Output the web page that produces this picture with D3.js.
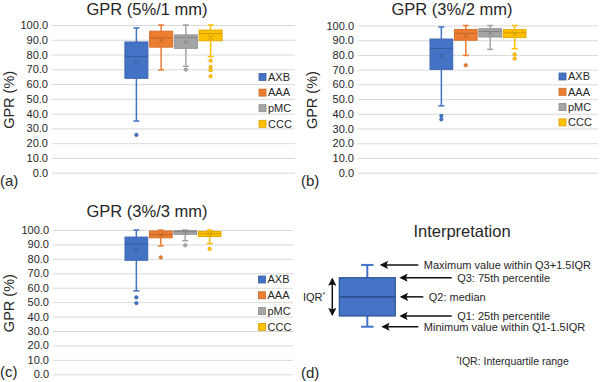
<!DOCTYPE html>
<html>
<head>
<meta charset="utf-8">
<script src="https://cdn.jsdelivr.net/npm/d3@7"></script>
<style>
	body { margin: 0; background: #fff; }
	text { font-family: "Liberation Sans", Arial, sans-serif; fill: #262626; }
</style>
</head>
<body>
<div id="chart"></div>
<script>
// series and colours shared by the three box plots
const series = ["AXB", "AAA", "pMC", "CCC"];
const colors = ["#4472C4", "#ED7D31", "#A5A5A5", "#FFC000"];
const yTicks = [0, 10, 20, 30, 40, 50, 60, 70, 80, 90, 100];

// [min whisker, q1, median, q3, max whisker] per series
const boxA = [[35, 63.9, 78.7, 88.5, 98], [69.6, 85, 91.2, 95.8, 100], [72, 84.2, 91.5, 93.3, 100], [78.6, 89.3, 94.2, 96.6, 100]];
const meanA = [74.5, 89.5, 88.5, 91.5];
const outA = [[25.6], [], [69.8], [75.8, 71.6, 69.4, 65.3]];

const boxB = [[45.4, 70.2, 84.4, 90.8, 99], [79.7, 90, 94.7, 97.3, 100], [83.8, 92.2, 95.9, 97.8, 100], [84.2, 91.8, 95, 97.2, 100]];
const meanB = [79.2, 93, 94.8, 94.4];
const outB = [[38.6, 36.2], [73], [], [80.4, 77.5]];

const boxC = [[57.8, 79, 90.3, 95.1, 100], [89, 94.6, 96.8, 99.3, 100], [92.6, 97, 98.8, 99.6, 100], [90.6, 95.5, 97.4, 99, 100]];
const meanC = [86, 96.5, 98.3, 97];
const outC = [[53.3, 49.3], [81], [89.4], [86.9]];

// illustrative box for the interpretation panel
const demoBox = [41.6, 50, 65, 80, 90];
const demoLabels = ["Minimum value within Q1-1.5IQR", "Q1: 25th percentile", "Q2: median", "Q3: 75th percentile", "Maximum value within Q3+1.5IQR"];

const svg = d3.select("#chart").append("svg")
	.attr("width", 600)
	.attr("height", 382);

// arrow head, tip pointing along the line
svg.append("defs").append("marker")
	.attr("id", "head")
	.attr("viewBox", "0 0 10 10")
	.attr("refX", 8).attr("refY", 5)
	.attr("markerWidth", 5.5).attr("markerHeight", 5.5)
	.attr("orient", "auto-start-reverse")
	.append("path")
	.attr("d", "M0,0L10,5L0,10L2,5Z")
	.attr("fill", "#111");

function boxPanel(o) {
	const g = svg.append("g");

	const y = d3.scaleLinear().domain([0, 100]).range([o.bottom, o.top]);
	const plotW = o.right - o.left;
	const cx = (o.left + o.right) / 2;
	const x = d3.scaleBand()
		.domain(series)
		.range([cx - plotW * 0.2, cx + plotW * 0.2])
		.paddingInner(0.07);

	// gridlines + tick labels
	const ax = g.append("g")
		.attr("transform", `translate(${o.left},0)`)
		.call(d3.axisLeft(y).tickValues(yTicks).tickSize(-plotW).tickPadding(4).tickFormat(d3.format(".1f")));
	ax.select(".domain").remove();
	ax.selectAll("line").attr("stroke", "#d9d9d9");
	ax.selectAll("text").attr("font-size", 11).attr("fill", "#262626")
		.style("font-family", "Liberation Sans, Arial, sans-serif");

	o.box.forEach((b, i) => {
		const s = series[i];
		const col = colors[i];
		const dark = d3.color(col).darker(0.6);
		const mx = x(s) + x.bandwidth() / 2;
		const cap = 3;

		// whiskers
		g.append("line").attr("x1", mx).attr("x2", mx).attr("y1", y(b[3])).attr("y2", y(b[4]))
			.attr("stroke", col).attr("stroke-width", 1.5);
		g.append("line").attr("x1", mx).attr("x2", mx).attr("y1", y(b[1])).attr("y2", y(b[0]))
			.attr("stroke", col).attr("stroke-width", 1.5);
		g.append("line").attr("x1", mx - cap).attr("x2", mx + cap).attr("y1", y(b[4])).attr("y2", y(b[4]))
			.attr("stroke", col).attr("stroke-width", 1.5);
		g.append("line").attr("x1", mx - cap).attr("x2", mx + cap).attr("y1", y(b[0])).attr("y2", y(b[0]))
			.attr("stroke", col).attr("stroke-width", 1.5);

		// box
		g.append("rect")
			.attr("x", x(s)).attr("width", x.bandwidth())
			.attr("y", y(b[3])).attr("height", y(b[1]) - y(b[3]))
			.attr("fill", col).attr("stroke", d3.color(col).darker(0.3)).attr("stroke-width", 1);
		g.append("line").attr("x1", x(s)).attr("x2", x(s) + x.bandwidth())
			.attr("y1", y(b[2])).attr("y2", y(b[2]))
			.attr("stroke", dark).attr("stroke-width", 1);

		// mean marker
		const my = y(o.mean[i]);
		g.append("path")
			.attr("d", `M${mx - 2.5},${my - 2.5}L${mx + 2.5},${my + 2.5}M${mx - 2.5},${my + 2.5}L${mx + 2.5},${my - 2.5}`)
			.attr("stroke", dark).attr("stroke-width", 1);

		// outliers
		g.selectAll(null).data(o.out[i]).enter().append("circle")
			.attr("cx", mx).attr("cy", (d) => y(d)).attr("r", 1.8)
			.attr("fill", col).attr("stroke", dark).attr("stroke-width", 0.5);
	});

	// legend
	series.forEach((s, i) => {
		const ly = o.legY + i * o.legStep;
		g.append("rect").attr("x", o.legX).attr("y", ly - 3.5).attr("width", 7).attr("height", 7)
			.attr("fill", colors[i]).attr("stroke", d3.color(colors[i]).darker(0.5)).attr("stroke-width", 0.8);
		g.append("text").attr("x", o.legX + 9).attr("y", ly).attr("dy", "0.35em")
			.attr("font-size", 11).text(s);
	});

	g.append("text").attr("x", o.titleX).attr("y", o.titleY)
		.attr("text-anchor", "middle").attr("font-size", 16.5).text(o.title);

	g.append("text")
		.attr("transform", `translate(${o.yTitleX},${(o.top + o.bottom) / 2 + 1}) rotate(-90)`)
		.attr("text-anchor", "middle").attr("dy", "0.35em")
		.attr("font-size", 14.5).text("GPR (%)");

	g.append("text").attr("x", o.labX).attr("y", o.labY)
		.attr("font-size", 15).text(o.label);
}

boxPanel({ box: boxA, mean: meanA, out: outA, title: "GPR (5%/1 mm)", label: "(a)",
	left: 52, right: 295, top: 25, bottom: 172.7,
	legX: 259, legY: 77, legStep: 15.6, titleX: 147, titleY: 14.5, yTitleX: 9, labX: 0, labY: 186 });

boxPanel({ box: boxB, mean: meanB, out: outB, title: "GPR (3%/2 mm)", label: "(b)",
	left: 358, right: 598, top: 25.5, bottom: 172.7,
	legX: 559, legY: 76.5, legStep: 15.3, titleX: 452, titleY: 14.5, yTitleX: 312, labX: 301, labY: 186 });

boxPanel({ box: boxC, mean: meanC, out: outC, title: "GPR (3%/3 mm)", label: "(c)",
	left: 53, right: 293, top: 230, bottom: 374.3,
	legX: 258.5, legY: 279.5, legStep: 15.8, titleX: 147, titleY: 216.5, yTitleX: 9, labX: 0, labY: 377 });

// (d) interpretation diagram
function interpretation() {
	const g = svg.append("g");
	const y = d3.scaleLinear().domain([50, 80]).range([316, 277.7]);
	const x = d3.scaleLinear().domain([0, 1]).range([339.3, 395.3]);
	const b = demoBox;
	const col = "#4472C4";
	const mx = x(0.5);

	g.append("line").attr("x1", mx).attr("x2", mx).attr("y1", y(b[3])).attr("y2", y(b[4]))
		.attr("stroke", col).attr("stroke-width", 2);
	g.append("line").attr("x1", mx).attr("x2", mx).attr("y1", y(b[1])).attr("y2", y(b[0]))
		.attr("stroke", col).attr("stroke-width", 2);
	[b[0], b[4]].forEach((v) => {
		g.append("line").attr("x1", mx - 6.2).attr("x2", mx + 6.2).attr("y1", y(v)).attr("y2", y(v))
			.attr("stroke", col).attr("stroke-width", 2);
	});
	g.append("rect").attr("x", x(0)).attr("width", x(1) - x(0))
		.attr("y", y(b[3])).attr("height", y(b[1]) - y(b[3]))
		.attr("fill", col).attr("stroke", "#2F5597").attr("stroke-width", 1.2);
	g.append("line").attr("x1", x(0)).attr("x2", x(1)).attr("y1", y(b[2])).attr("y2", y(b[2]))
		.attr("stroke", "#2F528F").attr("stroke-width", 1.8);

	// IQR double arrow
	g.append("line").attr("x1", 332.3).attr("x2", 332.3).attr("y1", y(b[3]) + 1.5).attr("y2", y(b[1]) - 1.5)
		.attr("stroke", "#111").attr("stroke-width", 1.5)
		.attr("marker-start", "url(#head)").attr("marker-end", "url(#head)");
	const iqr = g.append("text").attr("x", 303).attr("y", y(b[2])).attr("dy", "0.35em").attr("font-size", 11);
	iqr.append("tspan").text("IQR");
	iqr.append("tspan").attr("font-size", 7).attr("dy", "-0.5em").text("*");

	// arrows and labels, from min to max
	const arrX1 = [381.5, 399.5, 400, 399.5, 380];
	const arrX2 = [418.3, 451.7, 423.3, 451.7, 418.3];
	b.forEach((v, i) => {
		g.append("line").attr("x1", arrX2[i]).attr("x2", arrX1[i] + 1.5)
			.attr("y1", y(v)).attr("y2", y(v))
			.attr("stroke", "#111").attr("stroke-width", 1.5)
			.attr("marker-end", "url(#head)");
		g.append("text").attr("x", arrX2[i] + 5.5).attr("y", y(v)).attr("dy", "0.35em")
			.attr("font-size", 11).text(demoLabels[i]);
	});

	g.append("text").attr("x", 462).attr("y", 236.5).attr("text-anchor", "middle")
		.attr("font-size", 16.5).text("Interpretation");

	const fn = g.append("text").attr("x", 456.5).attr("y", 363.3).attr("dy", "0.35em").attr("font-size", 10.5);
	fn.append("tspan").attr("font-size", 6.5).attr("dy", "-0.4em").text("*");
	fn.append("tspan").attr("dy", "0.4em").text("IQR: Interquartile range");

	g.append("text").attr("x", 301).attr("y", 378).attr("font-size", 15).text("(d)");
}
interpretation();
</script>
</body>
</html>
